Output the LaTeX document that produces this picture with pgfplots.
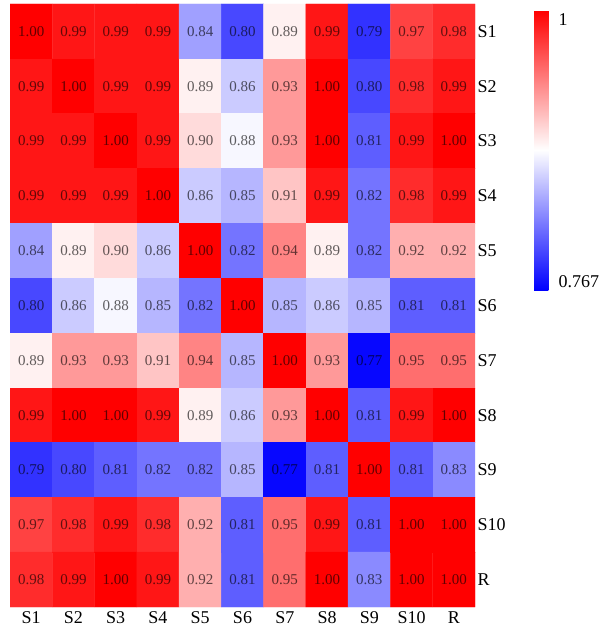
\documentclass[border=0pt]{standalone}
\usepackage{fontspec}
\setmainfont{Liberation Serif}
\usepackage{pgfplots}
\usepackage{pgfplotstable}
\pgfplotsset{compat=1.18}
\pgfplotsset{/pgf/number format/assume math mode=true}
\pgfplotstableread{
x y C
0 0 1.00
1 0 0.99
2 0 0.99
3 0 0.99
4 0 0.84
5 0 0.80
6 0 0.89
7 0 0.99
8 0 0.79
9 0 0.97
10 0 0.98
0 1 0.99
1 1 1.00
2 1 0.99
3 1 0.99
4 1 0.89
5 1 0.86
6 1 0.93
7 1 1.00
8 1 0.80
9 1 0.98
10 1 0.99
0 2 0.99
1 2 0.99
2 2 1.00
3 2 0.99
4 2 0.90
5 2 0.88
6 2 0.93
7 2 1.00
8 2 0.81
9 2 0.99
10 2 1.00
0 3 0.99
1 3 0.99
2 3 0.99
3 3 1.00
4 3 0.86
5 3 0.85
6 3 0.91
7 3 0.99
8 3 0.82
9 3 0.98
10 3 0.99
0 4 0.84
1 4 0.89
2 4 0.90
3 4 0.86
4 4 1.00
5 4 0.82
6 4 0.94
7 4 0.89
8 4 0.82
9 4 0.92
10 4 0.92
0 5 0.80
1 5 0.86
2 5 0.88
3 5 0.85
4 5 0.82
5 5 1.00
6 5 0.85
7 5 0.86
8 5 0.85
9 5 0.81
10 5 0.81
0 6 0.89
1 6 0.93
2 6 0.93
3 6 0.91
4 6 0.94
5 6 0.85
6 6 1.00
7 6 0.93
8 6 0.77
9 6 0.95
10 6 0.95
0 7 0.99
1 7 1.00
2 7 1.00
3 7 0.99
4 7 0.89
5 7 0.86
6 7 0.93
7 7 1.00
8 7 0.81
9 7 0.99
10 7 1.00
0 8 0.79
1 8 0.80
2 8 0.81
3 8 0.82
4 8 0.82
5 8 0.85
6 8 0.77
7 8 0.81
8 8 1.00
9 8 0.81
10 8 0.83
0 9 0.97
1 9 0.98
2 9 0.99
3 9 0.98
4 9 0.92
5 9 0.81
6 9 0.95
7 9 0.99
8 9 0.81
9 9 1.00
10 9 1.00
0 10 0.98
1 10 0.99
2 10 1.00
3 10 0.99
4 10 0.92
5 10 0.81
6 10 0.95
7 10 1.00
8 10 0.83
9 10 1.00
10 10 1.00
}\datatable
\begin{document}
\begin{tikzpicture}
\begin{axis}[
  scale only axis,
  width=465pt, height=603pt,
  xmin=-0.5, xmax=10.5, ymin=-0.5, ymax=10.5,
  y dir=reverse,
  axis line style={draw=none},
  tick style={draw=none},
  xtick={0,...,10},
  ytick={0,...,10},
  xticklabels={S1,S2,S3,S4,S5,S6,S7,S8,S9,S10,R},
  yticklabels={S1,S2,S3,S4,S5,S6,S7,S8,S9,S10,R},
  yticklabel pos=right,
  ticklabel style={font=\fontsize{18}{20}\selectfont},
  xticklabel style={yshift=-1pt},
  yticklabel style={xshift=-1pt},
  colormap={bwr}{rgb255(0cm)=(0,0,255); rgb255(1cm)=(255,255,255); rgb255(2cm)=(255,0,0)},
  point meta min=0.767, point meta max=1,
  colorbar,
  colorbar style={
    at={(1.127,0.990)}, anchor=north west,
    width=19pt, height=280pt,
    ytick={0.774,0.992},
    yticklabels={0.767,1},
    ticklabel style={font=\fontsize{18}{20}\selectfont},
    tick style={draw=none},
    axis line style={draw=none},
    yticklabel style={xshift=2pt},
  },
]
\addplot[matrix plot*, mesh/cols=11, point meta=explicit, draw=none] table[x=x, y=y, meta=C] {\datatable};
\addplot[only marks, mark=none, point meta=explicit,
  nodes near coords={\pgfmathprintnumber[fixed,fixed zerofill,precision=2]{\pgfplotspointmeta}},
  nodes near coords align=center,
  every node near coord/.append style={anchor=center, text=black, text opacity=0.62, font=\fontsize{15}{17}\selectfont}
] table[x=x, y=y, meta=C] {\datatable};
\end{axis}
\pgfresetboundingbox
\path (-10pt,-27pt) rectangle (594pt,607pt);
\end{tikzpicture}
\end{document}
